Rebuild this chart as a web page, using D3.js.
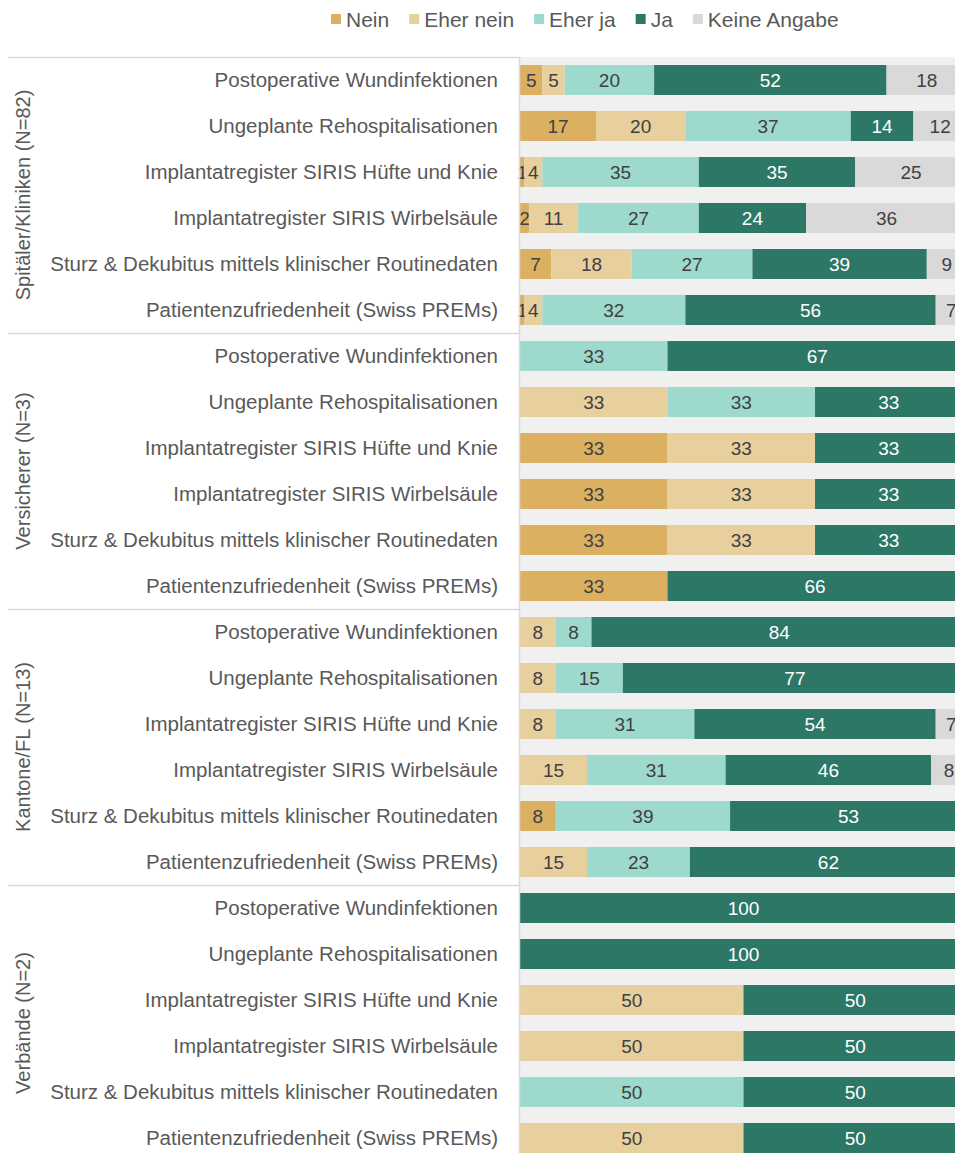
<!DOCTYPE html>
<html>
<head>
<meta charset="utf-8">
<script src="https://cdn.jsdelivr.net/npm/d3@7"></script>
<style>
  html, body { margin: 0; padding: 0; background: #fff; overflow: hidden; }
  svg { display: block; font-family: 'Liberation Sans', Arial, sans-serif; }
</style>
</head>
<body>
<div id="chart"></div>
<script>
// Groups of respondents and the indicators asked in each group
const groups = ['Spitäler/Kliniken (N=82)', 'Versicherer (N=3)', 'Kantone/FL (N=13)', 'Verbände (N=2)'];
const indicators = [
  'Postoperative Wundinfektionen',
  'Ungeplante Rehospitalisationen',
  'Implantatregister SIRIS Hüfte und Knie',
  'Implantatregister SIRIS Wirbelsäule',
  'Sturz & Dekubitus mittels klinischer Routinedaten',
  'Patientenzufriedenheit (Swiss PREMs)'
];
const answers = ['Nein', 'Eher nein', 'Eher ja', 'Ja', 'Keine Angabe'];

// Percentages per answer, 6 indicators per group, groups in order above
const nein     = [5, 17, 1, 2, 7, 1,      0, 0, 33, 33, 33, 33,    0, 0, 0, 0, 8, 0,        0, 0, 0, 0, 0, 0];
const eherNein = [5, 20, 4, 11, 18, 4,    0, 33, 33, 33, 33, 0,    8, 8, 8, 15, 0, 15,      0, 0, 50, 50, 0, 50];
const eherJa   = [20, 37, 35, 27, 27, 32, 33, 33, 0, 0, 0, 0,      8, 15, 31, 31, 39, 23,   0, 0, 0, 0, 50, 0];
const ja       = [52, 14, 35, 24, 39, 56, 67, 33, 33, 33, 33, 66,  84, 77, 54, 46, 53, 62,  100, 100, 50, 50, 50, 50];
const keine    = [18, 12, 25, 36, 9, 7,   0, 0, 0, 0, 0, 0,        0, 0, 7, 8, 0, 0,        0, 0, 0, 0, 0, 0];

const series = [nein, eherNein, eherJa, ja, keine];
const colors = ['#dbb061', '#e8cf9e', '#9dd9cd', '#2d7767', '#d9d9d9'];

const width = 955;
const height = 1153;
const plotLeft = 520;
const plotTop = 57;
const step = 46;

// Build one row per group / indicator
const rows = [];
groups.forEach((g, gi) => {
  indicators.forEach((ind, ii) => {
    const i = gi * indicators.length + ii;
    const row = { key: i, group: g, label: ind };
    answers.forEach((a, ai) => { row[a] = series[ai][i]; });
    rows.push(row);
  });
});

const stacked = d3.stack().keys(answers)(rows);

const svg = d3.select('#chart')
  .append('svg')
    .attr('width', width)
    .attr('height', height);

// Scales
const x = d3.scaleLinear()
  .domain([0, 100])
  .range([plotLeft, plotLeft + 447]);

const y = d3.scaleBand()
  .domain(rows.map(d => d.key))
  .range([plotTop, plotTop + rows.length * step])
  .paddingInner(16 / 46)
  .paddingOuter(8 / 46);

// Plot background
svg.append('rect')
  .attr('x', plotLeft)
  .attr('y', plotTop)
  .attr('width', width - plotLeft)
  .attr('height', height - plotTop)
  .attr('fill', '#f0f0f0');

// Bars
const layer = svg.selectAll('g.layer')
  .data(stacked)
  .enter().append('g')
    .attr('class', 'layer')
    .attr('fill', (d, i) => colors[i]);

layer.selectAll('rect')
  .data(d => d.filter(s => s[1] - s[0] > 0))
  .enter().append('rect')
    .attr('x', d => x(d[0]))
    .attr('y', d => y(d.data.key))
    .attr('width', d => x(d[1]) - x(d[0]))
    .attr('height', y.bandwidth());

// Value labels
layer.each(function (s, si) {
  d3.select(this).selectAll('text')
    .data(s.filter(d => d[1] - d[0] > 0))
    .enter().append('text')
      .attr('x', d => x((d[0] + d[1]) / 2))
      .attr('y', d => y(d.data.key) + y.bandwidth() / 2)
      .attr('dy', '0.36em')
      .attr('text-anchor', 'middle')
      .attr('font-size', 19)
      .attr('fill', answers[si] === 'Ja' ? '#ffffff' : '#404040')
      .text(d => d[1] - d[0]);
});

// Left axis line
svg.append('line')
  .attr('x1', plotLeft - 0.5)
  .attr('x2', plotLeft - 0.5)
  .attr('y1', plotTop)
  .attr('y2', height)
  .attr('stroke', '#d9d9d9')
  .attr('stroke-width', 1.5);

// Group separators
groups.forEach((g, gi) => {
  const y0 = plotTop + gi * indicators.length * step;
  svg.append('line')
    .attr('x1', 8)
    .attr('x2', plotLeft)
    .attr('y1', y0 + 0.5)
    .attr('y2', y0 + 0.5)
    .attr('stroke', '#d9d9d9')
    .attr('stroke-width', 1.5);

  // Rotated group label
  const cy = y0 + indicators.length * step / 2;
  svg.append('text')
    .attr('transform', 'translate(23,' + cy + ') rotate(-90)')
    .attr('text-anchor', 'middle')
    .attr('dy', '0.36em')
    .attr('font-size', 20)
    .attr('fill', '#595959')
    .text(g);
});

// Indicator labels
svg.append('g')
  .selectAll('text')
  .data(rows)
  .enter().append('text')
    .attr('x', 498)
    .attr('y', d => y(d.key) + y.bandwidth() / 2)
    .attr('dy', '0.36em')
    .attr('text-anchor', 'end')
    .attr('font-size', 20.5)
    .attr('fill', '#595959')
    .text(d => d.label);

// Legend
const legend = svg.append('g').attr('class', 'legend');
let lx = 331;
answers.forEach((a, i) => {
  const item = legend.append('g').attr('transform', 'translate(' + lx + ',0)');
  item.append('rect')
    .attr('x', 0)
    .attr('y', 14)
    .attr('width', 10)
    .attr('height', 10)
    .attr('fill', colors[i]);
  const t = item.append('text')
    .attr('x', 15)
    .attr('y', 19)
    .attr('dy', '0.36em')
    .attr('font-size', 21)
    .attr('fill', '#595959')
    .text(a);
  lx += 15 + t.node().getComputedTextLength() + 20;
});
</script>
</body>
</html>
